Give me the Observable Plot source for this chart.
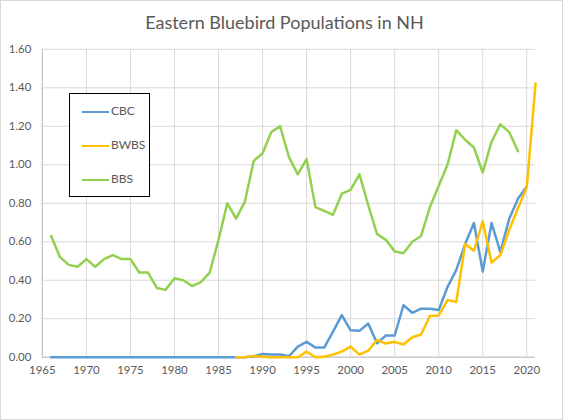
<!DOCTYPE html>
<html>
<head>
<meta charset="utf-8">
<script src="https://cdn.jsdelivr.net/npm/d3@7"></script>
<script src="https://cdn.jsdelivr.net/npm/@observablehq/plot@0.6"></script>
<style>
  body { margin: 0; background: #fff; }
  #chart { position: relative; width: 563px; height: 420px; box-sizing: border-box; border: 1px solid #d9d9d9; font-family: Lato, "Open Sans", sans-serif; }
  #chart svg { position: absolute; left: -1px; top: -1px; }
  #title { position: absolute; top: 10px; left: 0; width: 563px; text-align: center; padding-left: 2px; font-size: 18px; color: #595959; }
  #legend { position: absolute; left: 68px; top: 92px; width: 79px; height: 102px; border: 1.5px solid #000; background: #fff; }
  .item { position: absolute; left: 12px; font-size: 12px; color: #595959; line-height: 14px; }
  .item span { display: inline-block; width: 27px; height: 2.5px; vertical-align: middle; margin-right: 2px; }
</style>
</head>
<body>
<div id="chart">
  <div id="title">Eastern Bluebird Populations in NH</div>
</div>
<script>
// valores
const years = [1966,1967,1968,1969,1970,1971,1972,1973,1974,1975,1976,1977,1978,1979,1980,
  1981,1982,1983,1984,1985,1986,1987,1988,1989,1990,1991,1992,1993,1994,1995,1996,1997,1998,
  1999,2000,2001,2002,2003,2004,2005,2006,2007,2008,2009,2010,2011,2012,2013,2014,2015,2016,
  2017,2018,2019,2020,2021];

const cbc = [0,0,0,0,0,0,0,0,0,0,0,0,0,0,0,
  0,0,0,0,0,0,0,0,0.005,0.017,0.014,0.014,0.005,0.055,0.08,0.05,0.05,0.133,
  0.219,0.14,0.137,0.175,0.072,0.113,0.113,0.27,0.231,0.252,0.252,0.245,0.365,0.454,0.588,0.697,0.445,0.697,
  0.548,0.718,0.823,0.887,null];

const bwbs = [null,null,null,null,null,null,null,null,null,null,null,null,null,null,null,
  null,null,null,null,null,null,0,0,0.007,0.003,0,0,0,0,0.029,0,0.002,0.014,
  0.029,0.055,0.014,0.034,0.09,0.071,0.08,0.066,0.104,0.118,0.214,0.217,0.297,0.287,0.588,0.553,0.706,0.492,
  0.53,0.661,0.774,0.883,1.423];

const bbs = [0.63,0.52,0.48,0.47,0.51,0.47,0.51,0.53,0.51,0.51,0.44,0.44,0.36,0.35,0.41,
  0.40,0.37,0.39,0.44,0.61,0.80,0.72,0.81,1.02,1.06,1.17,1.20,1.04,0.95,1.03,0.78,0.76,0.74,
  0.85,0.87,0.95,0.79,0.64,0.61,0.55,0.54,0.60,0.63,0.78,0.89,1.00,1.18,1.13,1.09,0.96,1.12,
  1.21,1.17,1.07,null,null];

const seriesNames = ["CBC", "BWBS", "BBS"];
const seriesColors = ["#5b9bd5", "#ffc000", "#92d050"];
const xTicks = [1965,1970,1975,1980,1985,1990,1995,2000,2005,2010,2015,2020];
const yTicks = [0,0.2,0.4,0.6,0.8,1.0,1.2,1.4,1.6];

const valores = [cbc, bwbs, bbs];
const data = seriesNames.flatMap((s, i) =>
  years.map((y, j) => ({serie: s, year: y, value: valores[i][j]})));

let chart = Plot.plot({
  width: 563,
  height: 420,
  marginTop: 49,
  marginBottom: 62,
  marginLeft: 42,
  marginRight: 26,
  x: {domain: [1965, 2021], ticks: xTicks, tickFormat: "d", tickSize: 0, tickPadding: 9, label: null},
  y: {domain: [0, 1.6], ticks: yTicks, tickFormat: ".2f", tickSize: 0, tickPadding: 11, label: null},
  color: {domain: seriesNames, range: seriesColors},
  marks: [
    Plot.ruleY(yTicks, {stroke: "#d9d9d9", strokeWidth: 1}),
    Plot.ruleX(xTicks, {stroke: "#d9d9d9", strokeWidth: 1}),
    Plot.ruleX([1965], {stroke: "#bfbfbf", strokeWidth: 1}),
    Plot.ruleY([0], {stroke: "#bfbfbf", strokeWidth: 1}),
    Plot.line(data, {x: "year", y: "value", z: "serie", stroke: "serie", strokeWidth: 2.5, strokeLinejoin: "round"})
  ],
  style: {
    fontFamily: "Lato, 'Open Sans', sans-serif",
    fontSize: "11.5px",
    color: "#595959",
    background: "transparent"
  }
});

const box = document.getElementById("chart");
box.insertBefore(chart, box.firstChild);

// leyenda dentro del area del grafico
const legend = d3.select(box).append("div").attr("id", "legend");
seriesNames.forEach((s, i) => {
  const it = legend.append("div").attr("class", "item").style("top", (10 + i * 34) + "px");
  it.append("span").style("background", seriesColors[i]);
  it.append("text").text(s);
});
</script>
</body>
</html>
